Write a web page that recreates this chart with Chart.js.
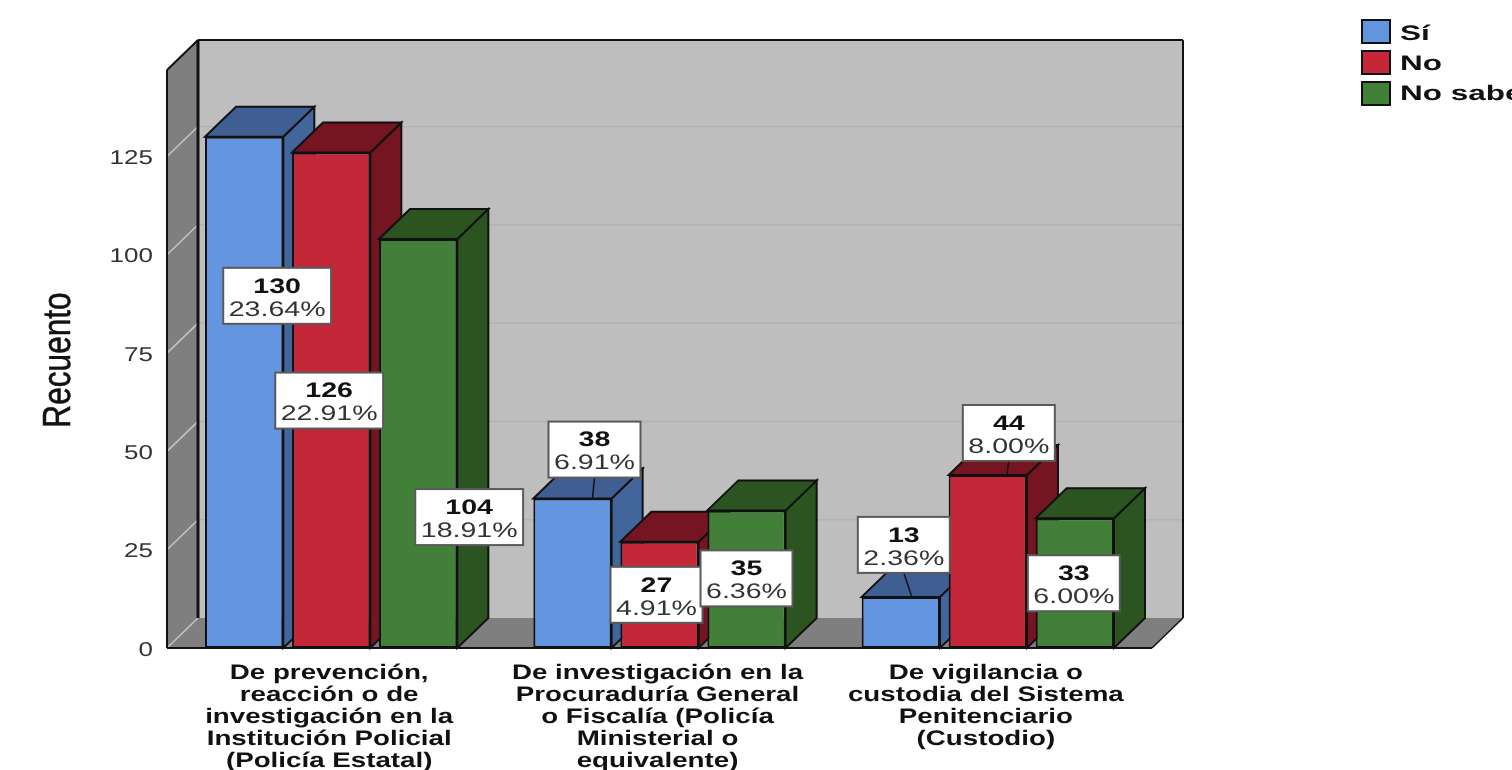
<!DOCTYPE html>
<html>
<head>
<meta charset="utf-8">
<title>Recuento</title>
<script src="https://cdn.jsdelivr.net/npm/chart.js@4"></script>
<style>
    html, body { margin: 0; padding: 0; background: #ffffff; overflow: hidden; }
    canvas { display: block; filter: blur(0.5px); }
</style>
</head>
<body>
<canvas id="recuento-chart" width="1512" height="770"></canvas>
<script>
// Values
const categories = [
    ['De prevención,', 'reacción o de', 'investigación en la', 'Institución Policial', '(Policía Estatal)'],
    ['De investigación en la', 'Procuraduría General', 'o Fiscalía (Policía', 'Ministerial o', 'equivalente)'],
    ['De vigilancia o', 'custodia del Sistema', 'Penitenciario', '(Custodio)']
];
const seriesNames = ['Sí', 'No', 'No sabe'];
const siValues = [130, 38, 13];
const noValues = [126, 27, 44];
const noSabeValues = [104, 35, 33];
const siPercents = ['23.64%', '6.91%', '2.36%'];
const noPercents = ['22.91%', '4.91%', '8.00%'];
const noSabePercents = ['18.91%', '6.36%', '6.00%'];
const yTicks = [0, 25, 50, 75, 100, 125];
const yAxisTop = 147;
const yTitle = 'Recuento';

const seriesValues = [siValues, noValues, noSabeValues];
const seriesPercents = [siPercents, noPercents, noSabePercents];

// Styles
const frontColors = ['#6495e0', '#c42738', '#42803a'];
const topColors = ['#3f5f92', '#751522', '#2b5420'];
const sideColors = ['#42659c', '#751522', '#2b5420'];
const edgeColor = '#111111';
const depthX = 31;
const depthY = 30;
const textStretch = 1.36;

// Label box placement, relative to the top centre of each bar: [dx, dy, leader end dx or null]
const labelPlacement = [
    [[33, 159, null], [22, -49, -2], [3, -52, 8]],
    [[-2, 248, null], [-3, 53, null], [21, -42, -2]],
    [[51, 278, null], [0, 68, null], [-1, 65, null]]
];

function stretchedText(ctx, text, x, y, font, color, align, stretch) {
    ctx.save();
    ctx.translate(x, y);
    ctx.scale(stretch, 1);
    ctx.textRendering = 'geometricPrecision';
    ctx.font = font;
    ctx.fillStyle = color;
    ctx.textAlign = align;
    ctx.textBaseline = 'middle';
    ctx.fillText(text, 0, 0);
    ctx.restore();
}

function polygon(ctx, points, fill, stroke, width) {
    ctx.beginPath();
    points.forEach((p, i) => i ? ctx.lineTo(p[0], p[1]) : ctx.moveTo(p[0], p[1]));
    ctx.closePath();
    if (fill) {
        ctx.fillStyle = fill;
        ctx.fill();
    }
    if (stroke) {
        ctx.strokeStyle = stroke;
        ctx.lineWidth = width;
        ctx.stroke();
    }
}

function line(ctx, x1, y1, x2, y2, color, width) {
    ctx.beginPath();
    ctx.moveTo(x1, y1);
    ctx.lineTo(x2, y2);
    ctx.strokeStyle = color;
    ctx.lineWidth = width;
    ctx.stroke();
}

// Top and side of a bar series, to be drawn just before its fronts
function drawBarDepth(chart, s) {
    const ctx = chart.ctx;
    ctx.save();
    chart.getDatasetMeta(s).data.forEach(bar => {
        const left = bar.x - bar.width / 2;
        const right = bar.x + bar.width / 2;
        polygon(ctx, [[right, bar.y], [right + depthX, bar.y - depthY],
            [right + depthX, bar.base - depthY], [right, bar.base]], sideColors[s], edgeColor, 2);
        polygon(ctx, [[left, bar.y], [left + depthX, bar.y - depthY],
            [right + depthX, bar.y - depthY], [right, bar.y]], topColors[s], edgeColor, 2);
    });
    ctx.restore();
}

const boxPlugin = {
    id: 'boxPlugin',
    // Walls, floor and grid lines behind the bars
    beforeDatasetsDraw(chart) {
        const ctx = chart.ctx;
        const a = chart.chartArea;
        const yScale = chart.scales.y;
        ctx.save();
        polygon(ctx, [[a.left + depthX, a.top - depthY], [a.right + depthX, a.top - depthY],
            [a.right + depthX, a.bottom - depthY], [a.left + depthX, a.bottom - depthY]], '#bebebe');
        polygon(ctx, [[a.left, a.top], [a.left + depthX, a.top - depthY],
            [a.left + depthX, a.bottom - depthY], [a.left, a.bottom]], '#7f7f7f');
        polygon(ctx, [[a.left, a.bottom], [a.left + depthX, a.bottom - depthY],
            [a.right + depthX, a.bottom - depthY], [a.right, a.bottom]], '#7f7f7f');

        yScale.ticks.forEach(tick => {
            const y = yScale.getPixelForValue(tick.value);
            line(ctx, a.left, y, a.left + depthX, y - depthY, '#c4c4c4', 1.5);
            if (tick.value > 0) {
                line(ctx, a.left + depthX, y - depthY, a.right + depthX, y - depthY, '#b2b2b2', 1.5);
            }
        });

        // Outline of the box
        line(ctx, a.left, a.top, a.left, a.bottom, edgeColor, 2);
        line(ctx, a.left, a.top, a.left + depthX, a.top - depthY, edgeColor, 2);
        line(ctx, a.left + depthX, a.top - depthY, a.right + depthX, a.top - depthY, edgeColor, 2);
        line(ctx, a.left + depthX, a.top - depthY, a.left + depthX, a.bottom - depthY, edgeColor, 3);
        line(ctx, a.right + depthX, a.top - depthY, a.right + depthX, a.bottom - depthY, edgeColor, 2);
        line(ctx, a.right, a.bottom, a.right + depthX, a.bottom - depthY, edgeColor, 1.5);
        line(ctx, a.left, a.bottom, a.right, a.bottom, edgeColor, 2);
        ctx.restore();
    },
    // Chart.js paints the last dataset first, here the first series has to go first
    beforeDatasetDraw() {
        return false;
    },
    afterDatasetsDraw(chart) {
        const ctx = chart.ctx;
        const a = chart.chartArea;
        const xScale = chart.scales.x;
        const yScale = chart.scales.y;
        const family = '"Liberation Sans", Arial, sans-serif';

        seriesNames.forEach((name, s) => {
            drawBarDepth(chart, s);
            chart.getDatasetMeta(s).controller.draw();
        });

        // Value boxes
        seriesValues.forEach((values, s) => {
            const bars = chart.getDatasetMeta(s).data;
            values.forEach((value, c) => {
                const bar = bars[c];
                const place = labelPlacement[s][c];
                const cx = bar.x + place[0];
                const cy = bar.y + place[1];
                const pct = seriesPercents[s][c];
                ctx.font = '21px ' + family;
                const w = ctx.measureText(pct).width * textStretch + 11;
                const h = 56;
                if (place[2] !== null) {
                    line(ctx, cx, cy + h / 2, cx + place[2], bar.y, edgeColor, 1.5);
                }
                ctx.save();
                ctx.fillStyle = '#ffffff';
                ctx.strokeStyle = '#5a5a5a';
                ctx.lineWidth = 2;
                ctx.fillRect(cx - w / 2, cy - h / 2, w, h);
                ctx.strokeRect(cx - w / 2, cy - h / 2, w, h);
                ctx.restore();
                stretchedText(ctx, String(value), cx, cy - 9, 'bold 21px ' + family, '#111111', 'center', textStretch);
                stretchedText(ctx, pct, cx, cy + 14, '21px ' + family, '#333333', 'center', textStretch);
            });
        });

        // Axis text
        yScale.ticks.forEach(tick => {
            stretchedText(ctx, String(tick.value), 153, yScale.getPixelForValue(tick.value) + 2, '20px ' + family, '#333333', 'right', 1.3);
        });
        categories.forEach((lines, c) => {
            const x = xScale.getPixelForTick(c) - 2;
            lines.forEach((text, n) => {
                stretchedText(ctx, text, x, a.bottom + 25 + n * 22, 'bold 21px ' + family, '#111111', 'center', 1.32);
            });
        });
        ctx.save();
        ctx.translate(59, (a.top + a.bottom) / 2 + 1);
        ctx.rotate(-Math.PI / 2);
        ctx.scale(1.13, 1.4);
        ctx.textRendering = 'geometricPrecision';
        ctx.font = '28px ' + family;
        ctx.fillStyle = '#111111';
        ctx.strokeStyle = '#111111';
        ctx.lineWidth = 0.4;
        ctx.textAlign = 'center';
        ctx.textBaseline = 'middle';
        ctx.fillText(yTitle, 0, 0);
        ctx.strokeText(yTitle, 0, 0);
        ctx.restore();

        // Legend
        seriesNames.forEach((name, s) => {
            const y = 20 + s * 31;
            ctx.save();
            ctx.fillStyle = frontColors[s];
            ctx.strokeStyle = edgeColor;
            ctx.lineWidth = 2;
            ctx.fillRect(1362, y, 28, 23);
            ctx.strokeRect(1362, y, 28, 23);
            ctx.restore();
            stretchedText(ctx, name, 1400, 34 + s * 30, 'bold 21px ' + family, '#111111', 'left', 1.5);
        });
    }
};

const chartElement = document.getElementById('recuento-chart');

new Chart(chartElement.getContext('2d'), {
    type: 'bar',
    data: {
        labels: categories,
        datasets: seriesNames.map((name, s) => ({
            label: name,
            data: seriesValues[s],
            backgroundColor: frontColors[s],
            borderColor: edgeColor,
            borderWidth: 2,
            borderSkipped: false,
            categoryPercentage: 0.795,
            barPercentage: 0.9
        }))
    },
    options: {
        responsive: false,
        animation: false,
        layout: {
            padding: { top: 70, right: 360, left: 0, bottom: 0 }
        },
        scales: {
            x: {
                grid: { display: false },
                border: { display: false },
                ticks: { display: false },
                afterFit(scale) { scale.height = 122; }
            },
            y: {
                min: 0,
                max: yAxisTop,
                grid: { display: false },
                border: { display: false },
                ticks: { display: false },
                afterBuildTicks(scale) { scale.ticks = yTicks.map(v => ({ value: v })); },
                afterFit(scale) { scale.width = 167; }
            }
        },
        plugins: {
            legend: { display: false },
            tooltip: { enabled: false }
        }
    },
    plugins: [boxPlugin]
});
</script>
</body>
</html>
